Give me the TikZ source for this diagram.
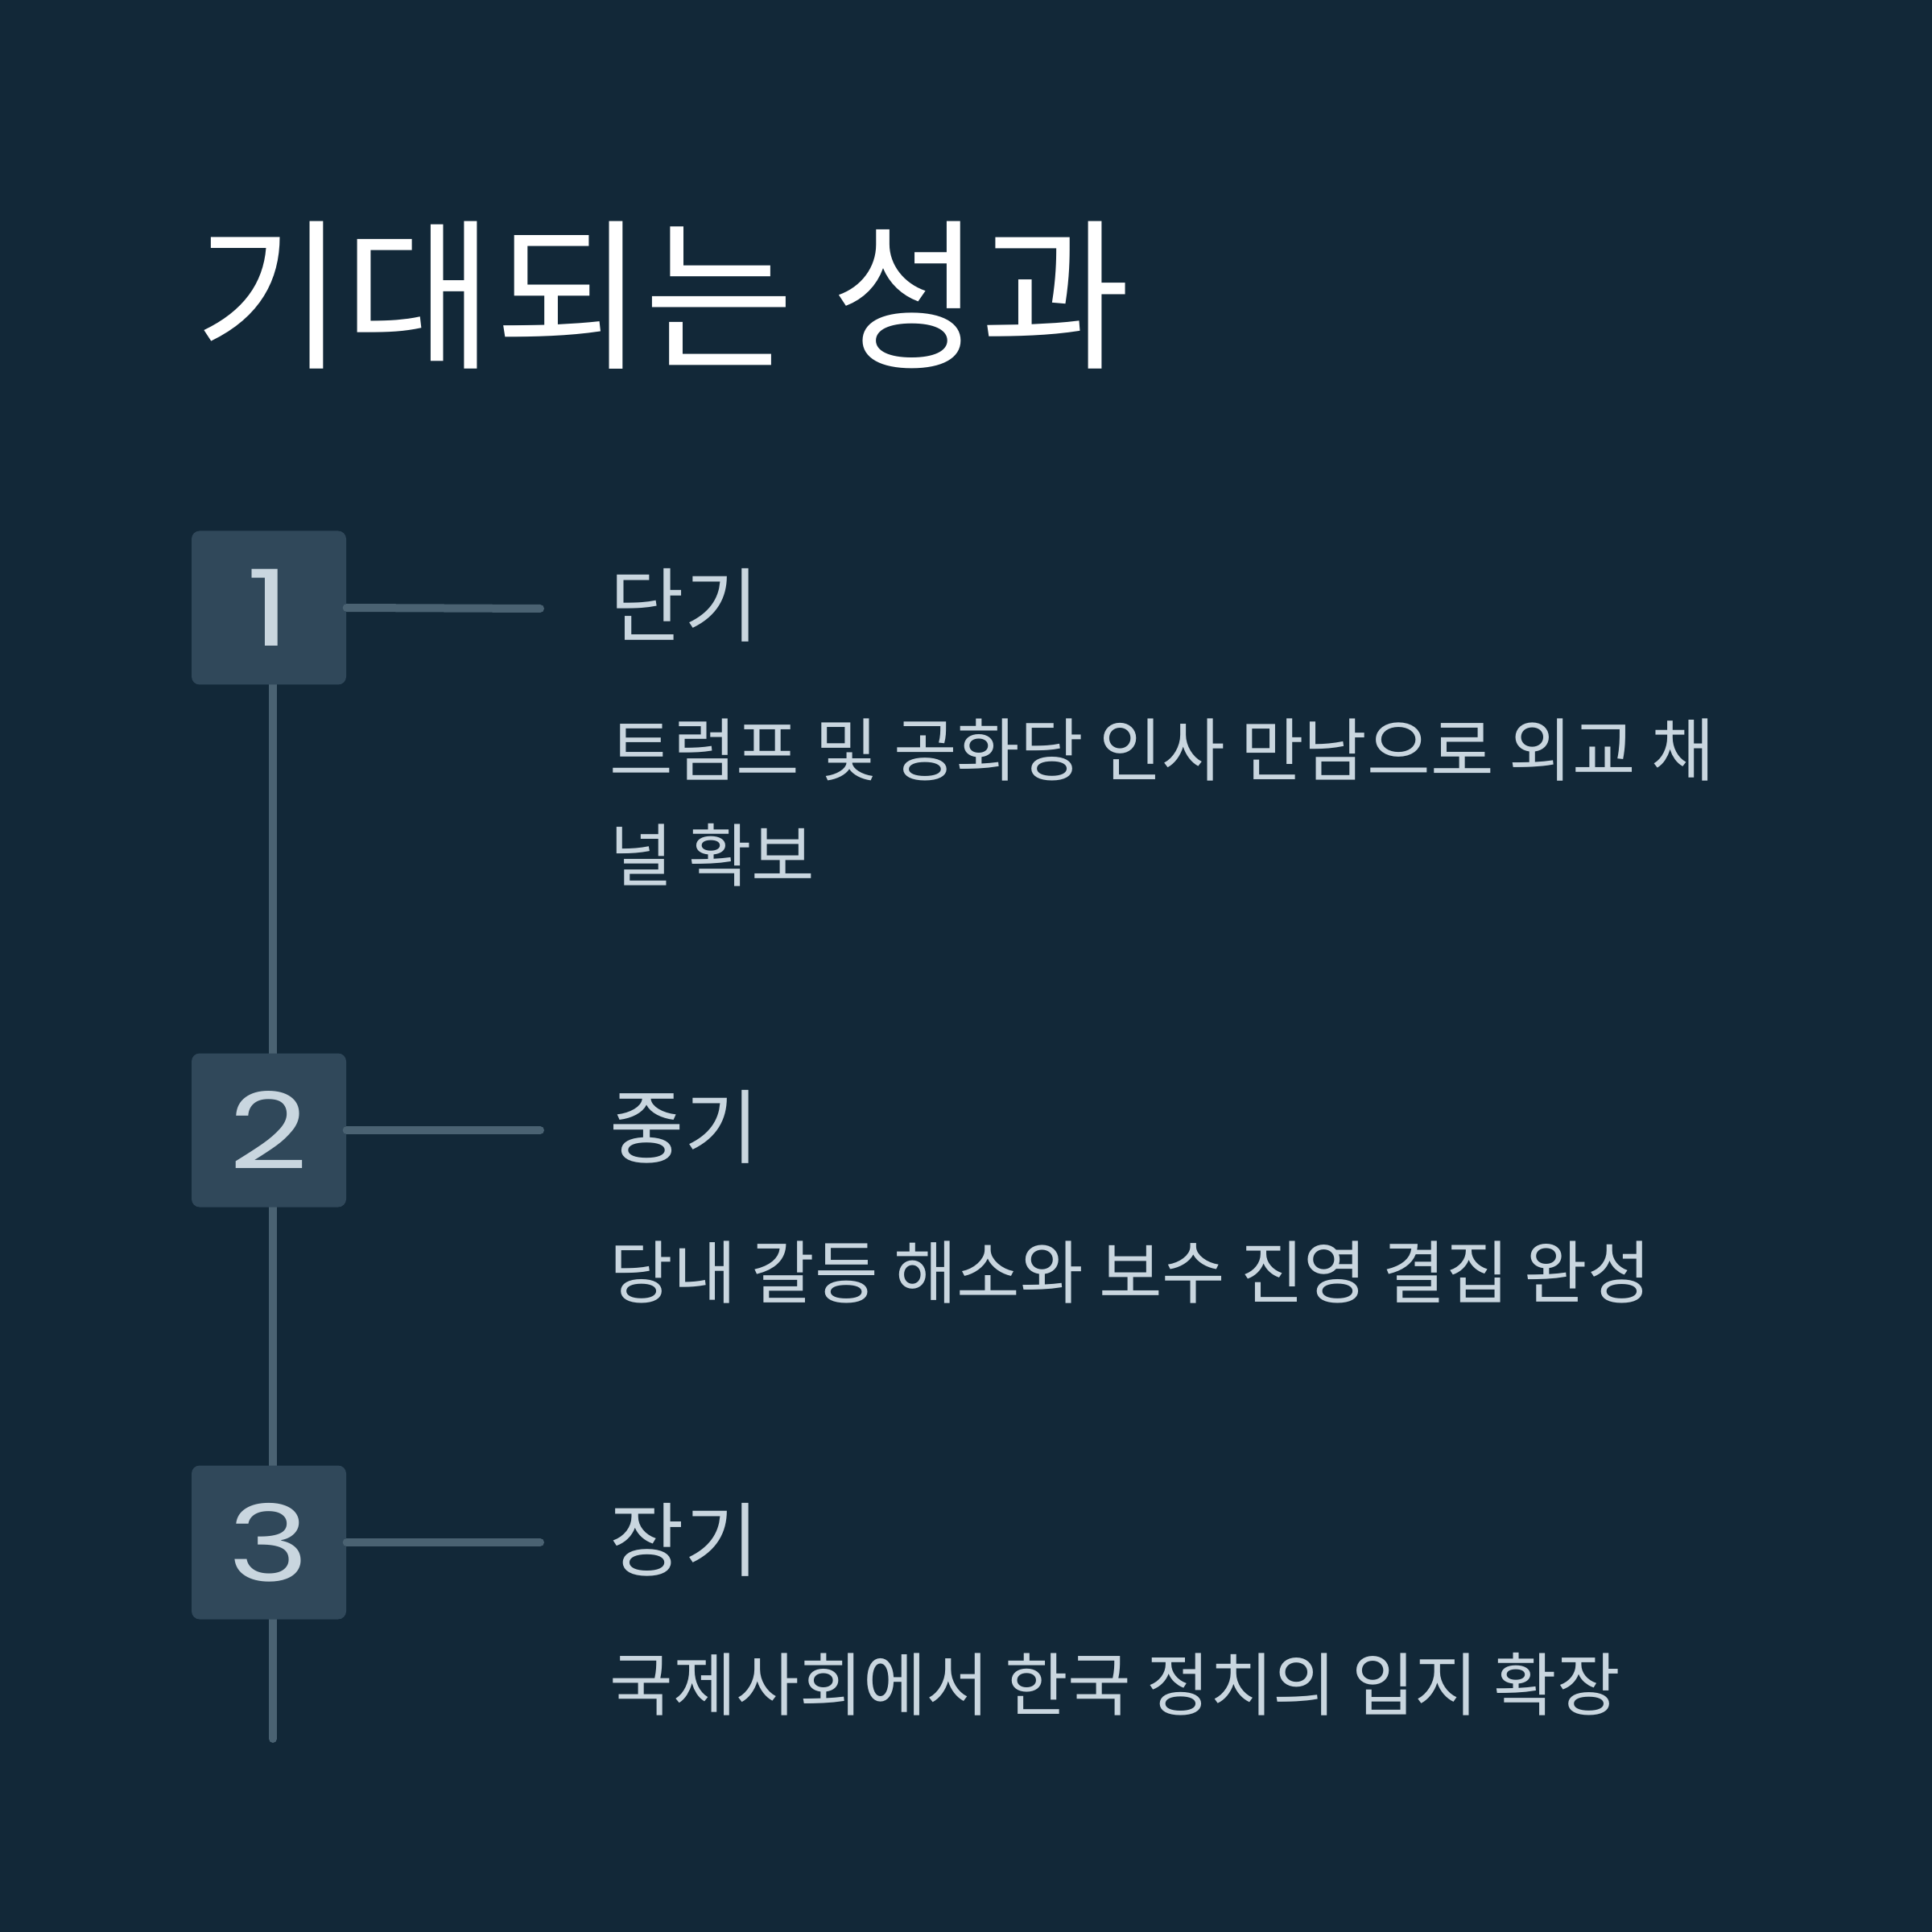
\documentclass[tikz,border=0pt]{standalone}
\usepackage{fontspec}
\setmainfont{Noto Sans CJK KR}
\newfontfamily\digitfont{Poppins}
\definecolor{bgcol}{HTML}{122838}
\definecolor{boxcol}{HTML}{30485A}
\definecolor{linecol}{HTML}{4A6272}
\definecolor{txtcol}{HTML}{C9D6DF}
\tikzset{
  numbox/.style={fill=boxcol, rounded corners=0.1cm, minimum width=1.92cm, minimum height=1.91cm, inner sep=0pt, text=txtcol, font=\digitfont\fontsize{37.5pt}{40pt}\selectfont},
  conn/.style={draw=linecol, line width=0.1cm, line cap=round},
  headtxt/.style={anchor=base west, inner sep=0pt, text=txtcol, font=\fontsize{28.6pt}{32pt}\selectfont},
  bodytxt/.style={anchor=base west, inner sep=0pt, text=txtcol, align=left, font=\fontsize{24.3pt}{37.1pt}\selectfont},
}
\begin{document}
\begin{tikzpicture}
\useasboundingbox (0,0) rectangle (24,-24);
\fill[bgcol] (0,0) rectangle (24,-24);
% title
\node[anchor=base west, inner sep=0pt, text=white, font=\fontsize{57.6pt}{64pt}\selectfont] (title) at (2.41,-4.43) {기대되는 성과};
% timeline
\coordinate (vtop) at (3.39,-7.55);
\coordinate (vbot) at (3.39,-21.60);
\draw[conn] (vtop) -- (vbot);
\node[numbox] (b1) at (3.34,-7.55) {\scalebox{1.3}[1]{1}};
\node[numbox] (b2) at (3.34,-14.04) {\scalebox{1.3}[1]{2}};
\node[numbox] (b3) at (3.34,-19.16) {\scalebox{1.3}[1]{3}};
\coordinate (e1) at (6.71,-7.56);
\coordinate (e2) at (6.71,-14.04);
\coordinate (e3) at (6.71,-19.16);
\draw[conn] (b1.east) -- (e1);
\draw[conn] (b2.east) -- (e2);
\draw[conn] (b3.east) -- (e3);
% texts
\node[headtxt] (h1) at (7.57,-7.90) {단기};
\node[bodytxt] (t1) at (7.57,-10.94) {트럼프 및 공화당 인사 만남으로 외교 채\\널 확보};
\node[headtxt] (h2) at (7.57,-14.37) {중기};
\node[bodytxt] (t2) at (7.57,-16.12) {당내 갈등 해소와 보수 진영 결집 완성};
\node[headtxt] (h3) at (7.57,-19.50) {장기};
\node[bodytxt] (t3) at (7.57,-21.24) {국제사회에서 한국 정치의 입지 확장};
\end{tikzpicture}
\end{document}
